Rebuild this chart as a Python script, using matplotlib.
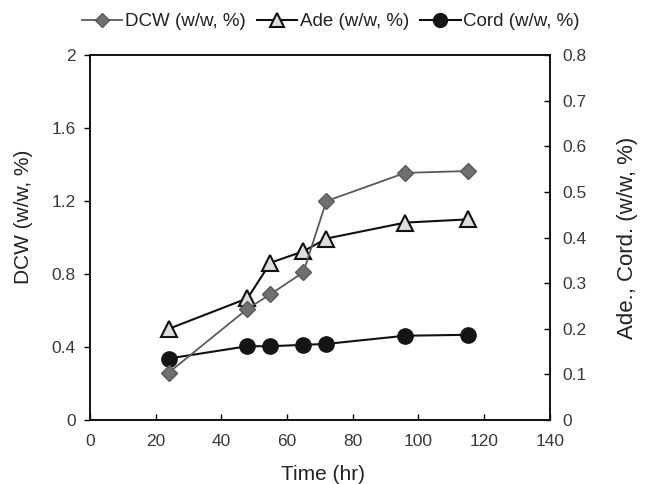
import matplotlib.pyplot as plt
from matplotlib.lines import Line2D

plt.rcParams['font.family'] = ['Liberation Sans', 'DejaVu Sans']

# data
time = [24, 48, 55, 65, 72, 96, 115]
dcw = [0.26, 0.61, 0.69, 0.81, 1.20, 1.355, 1.365]
ade = [0.20, 0.267, 0.345, 0.37, 0.398, 0.433, 0.44]
cord = [0.135, 0.162, 0.162, 0.165, 0.167, 0.185, 0.187]

x_ticks = [0, 20, 40, 60, 80, 100, 120, 140]
left_ticks = [0, 0.4, 0.8, 1.2, 1.6, 2]
left_labels = ["0", "0.4", "0.8", "1.2", "1.6", "2"]
right_ticks = [0, 0.1, 0.2, 0.3, 0.4, 0.5, 0.6, 0.7, 0.8]
right_labels = ["0", "0.1", "0.2", "0.3", "0.4", "0.5", "0.6", "0.7", "0.8"]

fig = plt.figure(figsize=(6.46, 4.84), dpi=100)
ax = fig.add_axes([0.139, 0.132, 0.712, 0.754])
ax2 = ax.twinx()

txt = "#3a3a3a"
fs = 12.5
lfs = 15

# Cord and Ade on the right axis
ax2.plot(time, cord, color="#111111", lw=1.5, marker="o", ms=11,
         mfc="#151515", mec="#151515", zorder=3)
ax2.plot(time, ade, color="#111111", lw=1.5, marker="^", ms=12,
         mfc="#dcdede", mec="#111111", mew=1.5, zorder=3)
ax2.set_ylim(0, 0.8)
ax2.set_yticks(right_ticks)
ax2.set_yticklabels(right_labels)
ax2.tick_params(axis="y", direction="in", length=4, width=1, labelsize=fs,
                labelcolor=txt, pad=9)
ax2.set_ylabel("Ade., Cord. (w/w, %)", fontsize=16, color="#222222")
ax2.yaxis.set_label_coords(1.146, 0.5)

# DCW on the left axis scale (0-2 maps onto 0-0.8)
ax2.plot(time, [v / 2.5 for v in dcw], color="#5a5a5a", lw=1.3,
         marker="D", ms=8, mfc="#707070", mec="#5a5a5a", zorder=4)

ax.set_xlim(0, 140)
ax.set_ylim(0, 2)
ax.set_xticks(x_ticks)
ax.set_yticks(left_ticks)
ax.set_yticklabels(left_labels)
ax.tick_params(axis="x", direction="in", length=4, width=1, labelsize=fs,
               labelcolor=txt, pad=10)
ax.tick_params(axis="y", direction="out", length=4, width=1, labelsize=fs,
               labelcolor=txt, pad=6)
ax.set_xlabel("Time (hr)", fontsize=lfs, color="#222222")
ax.xaxis.set_label_coords(0.507, -0.122)
ax.set_ylabel("DCW (w/w, %)", fontsize=lfs, color="#222222")
ax.yaxis.set_label_coords(-0.124, 0.557)

for a in (ax, ax2):
    for s in a.spines.values():
        s.set_linewidth(1.2)
        s.set_color("#111111")

handles = [
    Line2D([], [], color="#5a5a5a", lw=1.3, marker="D", ms=7, mfc="#707070", mec="#5a5a5a"),
    Line2D([], [], color="#111111", lw=1.5, marker="^", ms=10, mfc="#dcdede", mec="#111111", mew=1.5),
    Line2D([], [], color="#111111", lw=1.5, marker="o", ms=10, mfc="#151515", mec="#151515"),
]
fig.legend(handles, ["DCW (w/w, %)", "Ade (w/w, %)", "Cord (w/w, %)"],
           loc="center", bbox_to_anchor=(0.512, 0.955), ncol=3, frameon=False,
           fontsize=13.5, handlelength=2.15, handletextpad=0.15, columnspacing=0.6,
           labelcolor="#222222")

fig.savefig("out.png", dpi=100)
